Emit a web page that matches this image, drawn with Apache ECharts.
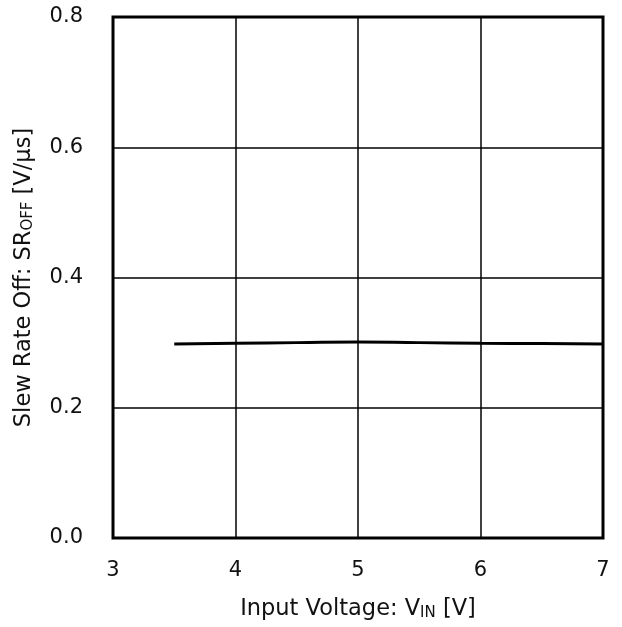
<!DOCTYPE html>
<html>
<head>
<meta charset="utf-8">
<script src="https://cdn.jsdelivr.net/npm/echarts@6/dist/echarts.min.js"></script>
<style>
  html, body { margin: 0; padding: 0; background: #fff; }
  #chart { width: 622px; height: 627px; }
</style>
</head>
<body>
<div id="chart"></div>
<script>
  // input voltage [V]
  var vin = [3.5, 4, 4.5, 5, 5.5, 6, 6.5, 7];
  // slew rate off [V/us]
  var srOff = [0.298, 0.299, 0.300, 0.301, 0.300, 0.299, 0.2985, 0.298];

  var pts = vin.map(function (v, i) { return [v, srOff[i]]; });
  var font = 'DejaVu Sans';

  var chart = echarts.init(document.getElementById('chart'));
  chart.setOption({
    animation: false,
    grid: {
      left: 113, top: 17, width: 490, height: 521,
      show: true, borderColor: '#000', borderWidth: 3
    },
    xAxis: {
      type: 'value', min: 3, max: 7, interval: 1,
      axisLine: { show: false },
      axisTick: { show: false },
      splitLine: { lineStyle: { color: '#000', width: 1.5 } },
      axisLabel: { color: '#111', fontSize: 21, fontFamily: font, margin: 22 },
      name: '{n|Input Voltage: V}{s|IN}{n| [V]}',
      nameLocation: 'middle',
      nameGap: 60,
      nameTextStyle: {
        rich: {
          n: { fontSize: 22.5, fontFamily: font, color: '#111' },
          s: { fontSize: 15, fontFamily: font, color: '#111', padding: [8, 0, 0, 0] }
        }
      }
    },
    yAxis: {
      type: 'value', min: 0, max: 0.8, interval: 0.2,
      axisLine: { show: false },
      axisTick: { show: false },
      splitLine: { lineStyle: { color: '#000', width: 1.5 } },
      axisLabel: {
        color: '#111', fontSize: 21, fontFamily: font, margin: 30,
        formatter: function (v) { return v.toFixed(1); }
      },
      name: '{n|Slew Rate Off: SR}{s|OFF}{n| [V/µs]}',
      nameLocation: 'middle',
      nameGap: 77,
      nameTextStyle: {
        rich: {
          n: { fontSize: 22.5, fontFamily: font, color: '#111' },
          s: { fontSize: 15, fontFamily: font, color: '#111', padding: [8, 0, 0, 0] }
        }
      }
    },
    series: [{
      type: 'line',
      data: pts,
      showSymbol: false,
      smooth: true,
      lineStyle: { color: '#000', width: 3 }
    }]
  });
</script>
</body>
</html>
